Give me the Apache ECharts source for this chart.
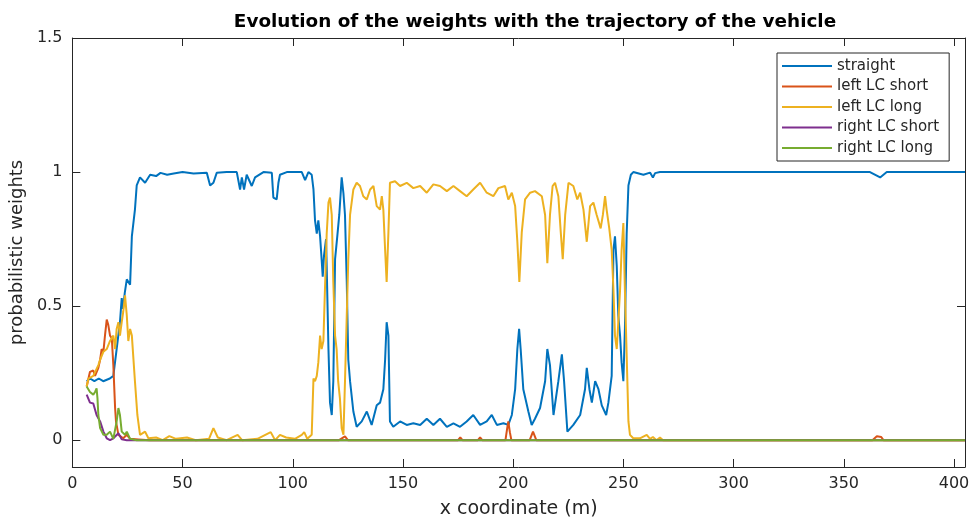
<!DOCTYPE html>
<html>
<head>
<meta charset="utf-8">
<title>Evolution of the weights</title>
<script src="https://cdn.jsdelivr.net/npm/echarts@6/dist/echarts.min.js"></script>
<style>
  html, body { margin: 0; padding: 0; background: #fff; }
  #chart { width: 974px; height: 524px; }
</style>
</head>
<body>
<div id="chart"></div>
<script>
// Hypothesis weights along the trajectory: [x coordinate (m), weight]
const seriesNames = ['straight', 'left LC short', 'left LC long', 'right LC short', 'right LC long'];
const xTicks = [0, 50, 100, 150, 200, 250, 300, 350, 400];
const yTicks = [0, 0.5, 1, 1.5];

const straight = [
  [6.5,0.22],[8,0.23],[10,0.22],[12,0.23],[14,0.22],[17,0.23],[18.6,0.24],[20.1,0.34],[21.6,0.44],
  [22.4,0.53],[23,0.49],[23.8,0.55],[24.7,0.60],[26.2,0.58],[27,0.76],[28.4,0.86],[29.2,0.95],
  [30.7,0.98],[33,0.96],[35.3,0.99],[38,0.985],[40,0.997],[43,0.99],[46,0.995],[50,1.0],[55,0.995],
  [61,0.997],[62.5,0.95],[64,0.96],[65.5,0.997],[70,1.0],[74.6,1.0],[76.1,0.935],[76.9,0.98],
  [77.9,0.935],[79.1,0.99],[81.4,0.948],[82.9,0.98],[86.7,1.0],[90.5,0.997],[91.2,0.905],[92.7,0.898],
  [93.5,0.96],[94.2,0.99],[97.3,1.0],[104.1,1.0],[105.6,0.97],[107.1,1.0],[108.6,0.99],[109.4,0.935],
  [110.1,0.82],[110.9,0.77],[111.6,0.82],[112.4,0.76],[113.1,0.675],[113.6,0.61],[114.2,0.69],
  [115.1,0.75],[115.4,0.65],[116.2,0.34],[116.9,0.14],[117.7,0.094],[118.4,0.22],[119.2,0.675],
  [120.2,0.76],[121.1,0.84],[122.2,0.98],[123,0.92],[123.7,0.84],[124.5,0.59],[125.2,0.30],[126,0.22],
  [127.5,0.107],[129,0.05],[131.3,0.07],[133.6,0.107],[135.8,0.057],[138.1,0.13],[139.6,0.14],
  [141.1,0.19],[141.9,0.30],[142.6,0.44],[143.4,0.39],[144.1,0.07],[145.6,0.05],[148.7,0.07],
  [151.7,0.057],[154.7,0.063],[157.8,0.057],[160.8,0.08],[163.8,0.057],[166.8,0.08],[169.9,0.05],
  [172.9,0.063],[175.9,0.05],[178.9,0.07],[181.9,0.094],[185,0.057],[188,0.07],[190.3,0.094],
  [192.6,0.057],[195.6,0.063],[197.8,0.057],[199.4,0.094],[200.9,0.19],[201.9,0.34],[202.7,0.415],
  [203.4,0.34],[204.6,0.19],[206.9,0.107],[208.4,0.057],[209.9,0.08],[212.2,0.12],[214.5,0.22],
  [215.5,0.34],[216.7,0.28],[218.3,0.094],[220.5,0.22],[222.1,0.32],[223.1,0.22],[224.6,0.032],
  [227.3,0.057],[230.4,0.094],[232.6,0.19],[233.4,0.27],[234.6,0.19],[235.7,0.14],[237.2,0.22],
  [238.7,0.19],[240.2,0.13],[242.2,0.094],[243.2,0.14],[244.7,0.24],[245.5,0.71],[246.2,0.76],
  [247,0.65],[247.7,0.465],[248.5,0.39],[249.2,0.29],[250,0.22],[250.7,0.415],[251.5,0.77],
  [252.3,0.95],[253.4,0.99],[254.5,1.0],[259.1,0.99],[262.1,0.998],[263.4,0.98],[264.4,0.996],
  [266.6,1.0],[361.9,1.0],[366.5,0.98],[369.5,1.0],[405,1.0]
];

const leftShort = [
  [6.5,0.2],[8,0.255],[9.5,0.26],[10.3,0.24],[11.8,0.27],[12.6,0.30],[13.3,0.34],[14.1,0.33],
  [14.8,0.39],[15.6,0.45],[16.3,0.43],[17.1,0.39],[17.9,0.38],[18.6,0.28],[19.4,0.12],[19.8,0.07],
  [20.9,0.02],[21.6,0.025],[23.1,0.007],[24.7,0.02],[26.2,0.005],[30,0.003],[35,0.0],[121,0.0],
  [123.7,0.014],[125,0.0],[175,0.0],[176,0.01],[177,0.0],[184,0.0],[185,0.01],[186,0.0],[196.5,0.0],
  [197.3,0.045],[197.8,0.07],[198.5,0.03],[199.2,0.0],[207.5,0.0],[209,0.032],[210.5,0.0],[363,0.0],
  [365,0.015],[367,0.012],[368,0.0],[405,0.0]
];

const leftLong = [
  [6.5,0.2],[7.3,0.23],[9.5,0.24],[11.8,0.28],[12.6,0.30],[14.1,0.33],[15.6,0.34],[17.1,0.37],
  [18.6,0.39],[19.4,0.34],[20.1,0.415],[20.9,0.44],[21.6,0.39],[22.4,0.44],[23.1,0.48],[23.9,0.54],
  [24.7,0.465],[25.4,0.37],[26.2,0.415],[27,0.39],[28.4,0.22],[29.5,0.094],[30.7,0.02],[33,0.032],
  [34.5,0.007],[38,0.01],[41,0.0],[44,0.015],[47,0.005],[52,0.01],[56,0.0],[62,0.005],[64,0.045],
  [66,0.01],[70,0.0],[75,0.02],[77,0.0],[84,0.005],[90,0.03],[92,0.0],[94.2,0.02],[97,0.01],
  [101,0.005],[104.1,0.02],[105.2,0.03],[106.6,0.005],[108.6,0.02],[109.4,0.23],[110.1,0.22],
  [110.9,0.24],[111.6,0.29],[112.4,0.39],[113.1,0.34],[113.9,0.37],[114.6,0.56],[115.4,0.77],
  [116.2,0.886],[116.9,0.905],[117.7,0.84],[118.4,0.59],[119.2,0.39],[119.9,0.34],[120.6,0.22],
  [121.4,0.156],[122.2,0.045],[123,0.02],[123.7,0.22],[124.5,0.465],[125.2,0.675],[126,0.84],
  [127.5,0.935],[129,0.96],[130.5,0.948],[132,0.91],[133.6,0.898],[135.1,0.935],[136.6,0.948],
  [138.1,0.873],[139.6,0.86],[140.4,0.91],[141.1,0.86],[141.9,0.71],[142.6,0.59],[143.4,0.775],
  [144.1,0.96],[146.4,0.966],[148.7,0.948],[151.7,0.96],[154.7,0.94],[157.8,0.948],[160.8,0.923],
  [163.8,0.954],[166.8,0.948],[169.9,0.929],[172.9,0.948],[175.9,0.929],[178.9,0.91],[181.9,0.935],
  [185,0.96],[188,0.923],[191,0.91],[193.3,0.94],[196.3,0.948],[197.8,0.898],[199.4,0.923],
  [200.9,0.873],[201.9,0.74],[202.8,0.59],[203.9,0.775],[205.4,0.898],[207.7,0.923],[209.9,0.929],
  [213,0.91],[214.5,0.84],[215.5,0.66],[216.7,0.84],[217.9,0.948],[219,0.96],[220.5,0.91],
  [221.6,0.775],[222.5,0.675],[223.6,0.84],[225.1,0.96],[227.3,0.948],[229.1,0.898],[230.4,0.923],
  [231.9,0.86],[233.4,0.74],[234.9,0.873],[236.4,0.886],[237.9,0.84],[239.7,0.79],[240.7,0.84],
  [241.7,0.91],[242.4,0.86],[243.6,0.79],[244.7,0.71],[245.5,0.56],[246.2,0.39],[247,0.34],
  [247.7,0.44],[248.5,0.56],[249.2,0.71],[250,0.81],[250.7,0.56],[251.5,0.317],[252.3,0.07],
  [253,0.02],[254.5,0.007],[257.5,0.007],[260.6,0.02],[262.1,0.005],[263.4,0.012],[265,0.0],
  [266.6,0.01],[268,0.0],[405,0.0]
];

const rightShort = [
  [6.5,0.17],[8,0.14],[9.5,0.137],[11,0.094],[12.6,0.07],[14.1,0.032],[15.6,0.007],[17.1,0.0],
  [18.6,0.007],[20.9,0.026],[22.4,0.003],[24.7,0.0],[405,0.0]
];

const rightLong = [
  [6.5,0.2],[8,0.18],[9.5,0.17],[10.3,0.18],[11,0.193],[11.4,0.156],[11.8,0.094],[12.6,0.045],
  [14.1,0.02],[15.6,0.02],[17.1,0.032],[18.6,0.005],[20.1,0.07],[20.9,0.12],[21.6,0.094],
  [22.4,0.032],[23.9,0.02],[24.7,0.032],[26.2,0.005],[29.2,0.0],[405,0.0]
];

const seriesData = [straight, leftShort, leftLong, rightShort, rightLong];
const colors = ['#0072BD', '#D95319', '#EDB120', '#7E2F8E', '#77AC30'];

const axisColor = '#262626';
const fontFamily = 'DejaVu Sans';

const chart = echarts.init(document.getElementById('chart'), null, { renderer: 'canvas' });

function xAxisDef(position, showLabels) {
  return {
    type: 'value', position: position, min: 0, max: 405,
    axisLine: { show: true, onZero: false, lineStyle: { color: axisColor, width: 1 } },
    axisTick: { show: true, inside: true, length: 8, customValues: xTicks, lineStyle: { color: axisColor } },
    axisLabel: { show: showLabels, customValues: xTicks, color: axisColor, fontSize: 16, fontFamily: fontFamily, margin: 9 },
    splitLine: { show: false },
    name: showLabels ? 'x coordinate (m)' : '',
    nameLocation: 'middle', nameGap: 33,
    nameTextStyle: { color: axisColor, fontSize: 19, fontFamily: fontFamily }
  };
}

function yAxisDef(position, showLabels) {
  return {
    type: 'value', position: position, min: -0.1, max: 1.5,
    axisLine: { show: true, onZero: false, lineStyle: { color: axisColor, width: 1 } },
    axisTick: { show: true, inside: true, length: 8, customValues: yTicks, lineStyle: { color: axisColor } },
    axisLabel: { show: showLabels, customValues: yTicks, color: axisColor, fontSize: 16, fontFamily: fontFamily, margin: 10 },
    splitLine: { show: false },
    name: showLabels ? 'probabilistic weights' : '',
    nameLocation: 'middle', nameGap: 37, nameRotate: 90,
    nameTextStyle: { color: axisColor, fontSize: 18, fontFamily: fontFamily }
  };
}

chart.setOption({
  animation: false,
  backgroundColor: '#ffffff',
  title: {
    text: 'Evolution of the weights with the trajectory of the vehicle',
    left: 530, top: 8, textAlign: 'center',
    textStyle: { color: '#000', fontSize: 18.4, fontWeight: 'bold', fontFamily: fontFamily }
  },
  grid: { left: 72, right: 9, top: 38, bottom: 55, containLabel: false },
  legend: {
    orient: 'vertical', left: 777, top: 53,
    padding: [5, 10, 5, 5],
    itemWidth: 50, itemHeight: 2, itemGap: 4.5,
    icon: 'rect',
    borderColor: axisColor, borderWidth: 1, backgroundColor: '#ffffff',
    textStyle: { color: axisColor, fontSize: 15, fontFamily: fontFamily, lineHeight: 16 },
    data: seriesNames
  },
  xAxis: [xAxisDef('bottom', true), xAxisDef('top', false)],
  yAxis: [yAxisDef('left', true), yAxisDef('right', false)],
  series: seriesNames.map((name, i) => ({
    name: name,
    type: 'line',
    xAxisIndex: 0, yAxisIndex: 0,
    data: seriesData[i],
    showSymbol: false,
    symbol: 'none',
    color: colors[i],
    lineStyle: { color: colors[i], width: 2 },
    emphasis: { disabled: true }
  }))
});
</script>
</body>
</html>
